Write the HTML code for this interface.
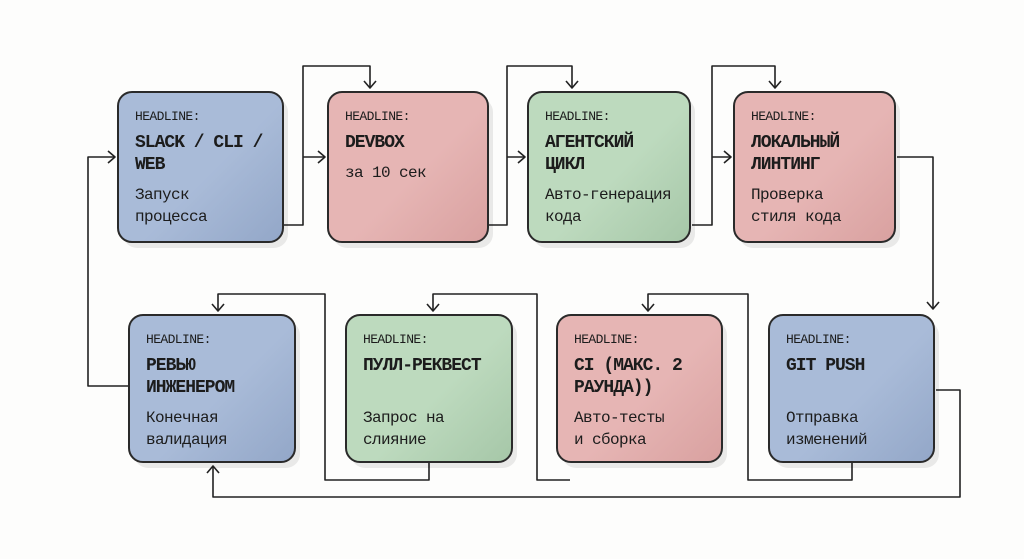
<!DOCTYPE html>
<html><head><meta charset="utf-8"><style>
body{margin:0;width:1024px;height:559px;background:#fdfdfc;position:relative;overflow:hidden;font-family:"Liberation Mono","DejaVu Sans Mono",monospace;color:#1c1c1c}
.b{position:absolute;border:2px solid #2a2a2a;border-radius:15px;box-sizing:border-box;padding:0 16px;box-shadow:5px 6px 0 -1px rgba(0,0,0,0.08);white-space:nowrap}
.blue{background:linear-gradient(135deg,#a9bbd8 55%,#93a7c8)}
.pink{background:linear-gradient(135deg,#e6b5b4 55%,#d9a1a0)}
.green{background:linear-gradient(135deg,#bddabe 55%,#a6c7a8)}
.h{font-size:13px;margin-top:16px;letter-spacing:-0.6px}
.t{font-size:18px;font-weight:bold;line-height:22px;margin-top:8px;letter-spacing:-1px}
.d{font-size:16px;line-height:22px;margin-top:8px;letter-spacing:-0.6px}
svg{position:absolute;left:0;top:0}
</style></head><body>
<svg width="1024" height="559" fill="none" stroke="#222" stroke-width="1.6" stroke-linejoin="round">
<path d="M283 225 H303 V66 H370 V88"/><path d="M303 157 H324"/>
<path d="M488 225 H507 V66 H572 V88"/><path d="M507 157 H524"/>
<path d="M692 225 H712 V66 H775 V88"/><path d="M712 157 H730"/>
<path d="M897 157 H933 V309"/>
<path d="M936 390 H960 V497 H213 V467"/>
<path d="M852 462 V480 H748 V294 H648 V311"/>
<path d="M570 480 H537 V294 H433 V311"/>
<path d="M429 462 V480 H325 V294 H218 V311"/>
<path d="M128 386 H88 V157 H114"/>
<g stroke-width="1.6">
<path d="M364 81 L370 88 L376 81"/><path d="M566 81 L572 88 L578 81"/><path d="M769 81 L775 88 L781 81"/>
<path d="M318 151 L325 157 L318 163"/><path d="M518 151 L525 157 L518 163"/><path d="M724 151 L731 157 L724 163"/><path d="M108 151 L115 157 L108 163"/>
<path d="M927 302 L933 309 L939 302"/><path d="M642 304 L648 311 L654 304"/><path d="M427 304 L433 311 L439 304"/><path d="M212 304 L218 311 L224 304"/>
<path d="M207 473 L213 466 L219 473"/>
</g>
</svg>
<div class="b blue" style="left:117px;top:91px;width:167px;height:152px"><div class="h">HEADLINE:</div><div class="t">SLACK / CLI /<br>WEB</div><div class="d">Запуск<br>процесса</div></div>
<div class="b pink" style="left:327px;top:91px;width:162px;height:152px"><div class="h">HEADLINE:</div><div class="t">DEVBOX</div><div class="d">за 10 сек</div></div>
<div class="b green" style="left:527px;top:91px;width:164px;height:152px"><div class="h">HEADLINE:</div><div class="t">АГЕНТСКИЙ<br>ЦИКЛ</div><div class="d">Авто-генерация<br>кода</div></div>
<div class="b pink" style="left:733px;top:91px;width:163px;height:152px"><div class="h">HEADLINE:</div><div class="t">ЛОКАЛЬНЫЙ<br>ЛИНТИНГ</div><div class="d">Проверка<br>стиля кода</div></div>
<div class="b blue" style="left:128px;top:314px;width:168px;height:149px"><div class="h">HEADLINE:</div><div class="t">РЕВЬЮ<br>ИНЖЕНЕРОМ</div><div class="d">Конечная<br>валидация</div></div>
<div class="b green" style="left:345px;top:314px;width:168px;height:149px"><div class="h">HEADLINE:</div><div class="t">ПУЛЛ-РЕКВЕСТ</div><div class="d" style="margin-top:30px">Запрос на<br>слияние</div></div>
<div class="b pink" style="left:556px;top:314px;width:167px;height:149px"><div class="h">HEADLINE:</div><div class="t">CI (МАКС. 2<br>РАУНДА))</div><div class="d">Авто-тесты<br>и сборка</div></div>
<div class="b blue" style="left:768px;top:314px;width:167px;height:149px"><div class="h">HEADLINE:</div><div class="t">GIT PUSH</div><div class="d" style="margin-top:30px">Отправка<br>изменений</div></div>
</body></html>
